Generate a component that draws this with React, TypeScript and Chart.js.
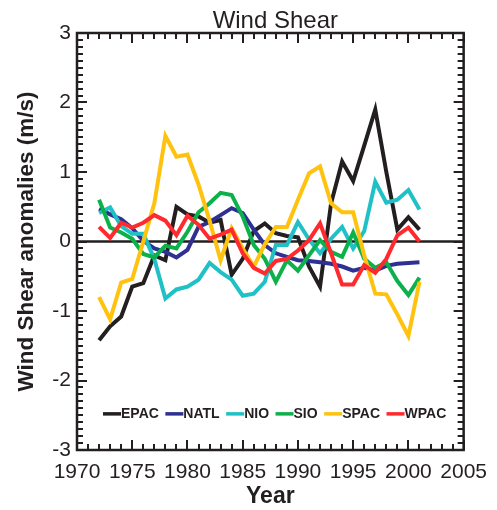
import React, { useEffect, useRef } from "react";
import { Chart, registerables } from "chart.js";

Chart.register(...registerables);

const years = [1972, 1973, 1974, 1975, 1976, 1977, 1978, 1979, 1980, 1981, 1982, 1983, 1984, 1985, 1986, 1987, 1988, 1989, 1990, 1991, 1992, 1993, 1994, 1995, 1996, 1997, 1998, 1999, 2000, 2001];

const epac = [-1.42, -1.22, -1.08, -0.65, -0.6, -0.2, -0.27, 0.5, 0.39, 0.36, 0.27, 0.31, -0.48, -0.25, 0.15, 0.26, 0.12, 0.08, 0.06, -0.36, -0.65, 0.55, 1.15, 0.87, 1.38, 1.9, 1.0, 0.17, 0.35, 0.17];
const natl = [0.47, 0.39, 0.32, 0.19, 0.01, -0.1, -0.15, -0.23, -0.12, 0.21, 0.28, 0.38, 0.48, 0.41, 0.17, -0.05, -0.17, -0.22, -0.27, -0.28, -0.3, -0.32, -0.36, -0.42, -0.38, -0.42, -0.35, -0.32, -0.31, -0.3];
const nio = [0.41, 0.49, 0.22, 0.11, 0.11, -0.25, -0.82, -0.69, -0.65, -0.55, -0.31, -0.44, -0.55, -0.78, -0.75, -0.58, -0.05, -0.05, 0.28, 0.03, -0.17, 0.04, 0.21, -0.1, 0.15, 0.86, 0.56, 0.6, 0.74, 0.46];
const sio = [0.6, 0.2, 0.13, 0.04, -0.18, -0.23, -0.06, -0.1, 0.14, 0.42, 0.55, 0.7, 0.67, 0.36, -0.05, -0.25, -0.58, -0.27, -0.42, -0.2, 0.02, -0.15, -0.22, 0.13, -0.25, -0.38, -0.3, -0.57, -0.77, -0.52];
const spac = [-0.8, -1.12, -0.59, -0.54, 0.0, 0.55, 1.52, 1.22, 1.25, 0.82, 0.3, -0.27, 0.19, -0.1, -0.36, -0.04, 0.21, 0.21, 0.6, 0.98, 1.08, 0.55, 0.42, 0.42, -0.2, -0.75, -0.76, -1.05, -1.36, -0.58];
const wpac = [0.21, 0.05, 0.27, 0.2, 0.27, 0.38, 0.3, 0.09, 0.37, 0.24, 0.04, 0.1, 0.17, -0.17, -0.38, -0.46, -0.28, -0.25, -0.13, 0.02, 0.26, -0.17, -0.62, -0.62, -0.34, -0.45, -0.25, 0.09, 0.2, 0.0];

const seriesNames = ["EPAC", "NATL", "NIO", "SIO", "SPAC", "WPAC"];
const seriesValues = [epac, natl, nio, sio, spac, wpac];
const seriesColors = ["#231f20", "#2e3192", "#1fc1c6", "#0db14b", "#ffc20e", "#ff2a2e"];

const chartTitle = "Wind Shear";
const xMin = 1970;
const xMax = 2005;
const xStep = 5;
const yMin = -3;
const yMax = 3;
const yStep = 1;

const FONT = '"Liberation Sans", Arial, Helvetica, sans-serif';
const INK = "#231f20";

function drawTicks(ctx: CanvasRenderingContext2D, chart: any) {
  const { chartArea, scales } = chart;
  const { left, right, top, bottom } = chartArea;
  ctx.fillStyle = INK;
  for (let yr = xMin; yr <= xMax; yr++) {
    const px = Math.round(scales.x.getPixelForValue(yr));
    const len = yr % xStep === 0 ? 10 : 6;
    ctx.fillRect(px - 1, bottom - len, 2, len);
    ctx.fillRect(px - 1, top, 2, len);
  }
  for (let k = yMin * 10; k <= yMax * 10; k++) {
    const py = Math.round(scales.y.getPixelForValue(k / 10));
    const len = k % 10 === 0 ? 10 : 6;
    ctx.fillRect(left, py - 1, len, 2);
    ctx.fillRect(right - len, py - 1, len, 2);
  }
}

const framePlugin = {
  id: "idlFrame",
  beforeDatasetsDraw(chart: any) {
    const { ctx, chartArea, scales } = chart;
    const y0 = scales.y.getPixelForValue(0);
    ctx.save();
    ctx.strokeStyle = INK;
    ctx.lineWidth = 2.5;
    ctx.beginPath();
    ctx.moveTo(chartArea.left, y0);
    ctx.lineTo(chartArea.right, y0);
    ctx.stroke();
    ctx.restore();
  },
  afterDraw(chart: any) {
    const { ctx, chartArea, scales } = chart;
    const { left, right, top, bottom } = chartArea;
    ctx.save();
    // title
    ctx.fillStyle = INK;
    ctx.font = `24px ${FONT}`;
    ctx.textAlign = "center";
    ctx.textBaseline = "alphabetic";
    ctx.fillText(chartTitle, (left + right) / 2 + 5, 28);

    ctx.strokeStyle = INK;
    ctx.lineWidth = 2.5;
    ctx.strokeRect(left, top, right - left, bottom - top);
    drawTicks(ctx, chart);

    // legend inside plot
    ctx.font = `bold 14px ${FONT}`;
    ctx.textBaseline = "middle";
    ctx.textAlign = "left";
    const ly = scales.y.getPixelForValue(-2.48);
    let lx = left + 26;
    chart.data.datasets.forEach((ds: any) => {
      ctx.strokeStyle = ds.borderColor;
      ctx.lineWidth = 3.5;
      ctx.beginPath();
      ctx.moveTo(lx, ly);
      ctx.lineTo(lx + 18, ly);
      ctx.stroke();
      ctx.fillStyle = INK;
      ctx.fillText(ds.label, lx + 18, ly);
      lx += 18 + ctx.measureText(ds.label).width + 6.5;
    });
    ctx.restore();
  },
};

export default function App() {
  const ref = useRef<HTMLCanvasElement | null>(null);
  useEffect(() => {
    if (!ref.current) return;
    const datasets = seriesNames.map((name, i) => ({
      label: name,
      data: years.map((yr, j) => ({ x: yr, y: seriesValues[i][j] })),
      borderColor: seriesColors[i],
      backgroundColor: seriesColors[i],
      borderWidth: 4,
      pointRadius: 0,
      tension: 0,
      fill: false,
      order: seriesNames.length - 1 - i,
    }));
    const chart = new Chart(ref.current, {
      type: "line",
      data: { datasets },
      plugins: [framePlugin],
      options: {
        responsive: false,
        animation: false,
        devicePixelRatio: 1,
        layout: { padding: { left: 0, right: 30, top: 33, bottom: 0 } },
        plugins: {
          legend: { display: false },
          tooltip: { enabled: false },
          title: { display: false },
        },
        scales: {
          x: {
            type: "linear",
            min: xMin,
            max: xMax,
            border: { display: false },
            grid: { display: false, drawTicks: false },
            ticks: {
              stepSize: xStep,
              padding: 10,
              color: INK,
              font: { family: FONT, size: 21 },
              maxRotation: 0,
              callback: (v: any) => String(v),
            },
            title: {
              display: true,
              text: "Year",
              color: INK,
              font: { family: FONT, size: 23, weight: "bold" },
              padding: { top: 0, bottom: 0 },
            },
            afterFit: (s: any) => {
              s.height = 60;
            },
          },
          y: {
            type: "linear",
            min: yMin,
            max: yMax,
            border: { display: false },
            grid: { display: false, drawTicks: false },
            ticks: {
              stepSize: yStep,
              padding: 6,
              color: INK,
              font: { family: FONT, size: 21 },
              callback: (v: any) => String(v),
            },
            title: {
              display: true,
              text: "Wind Shear anomalies (m/s)",
              color: INK,
              font: { family: FONT, size: 22.5, weight: "bold" },
              padding: { top: 13, bottom: 0 },
            },
            afterFit: (s: any) => {
              s.width = 77;
            },
          },
        },
      },
    });
    return () => chart.destroy();
  }, []);
  return (
    <div style={{ position: "absolute", left: 0, top: 0, width: 497, height: 510, background: "#fff" }}>
      <canvas ref={ref} width={497} height={510} style={{ display: "block" }} />
    </div>
  );
}
